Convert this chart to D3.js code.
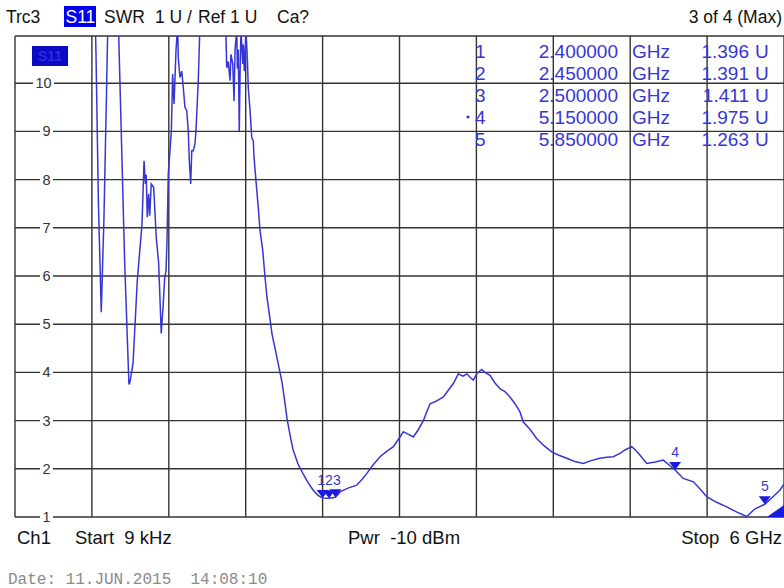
<!DOCTYPE html>
<html><head><meta charset="utf-8">
<script src="https://cdn.jsdelivr.net/npm/d3@7"></script>
<style>
html,body{margin:0;padding:0;background:#fff;}
svg{display:block;font-family:"Liberation Sans",Arial,sans-serif;}
text{white-space:pre;}
</style></head>
<body><svg id="c" width="784" height="588"></svg>
<script>
// ---- data (GHz, SWR) ----
const freqGHz = [0.009,0.616,0.632,0.651,0.673,0.694,0.714,0.733,0.796,0.811,0.856,0.889,0.897,0.921,0.954,0.991,1.007,1.017,1.024,1.032,1.043,1.051,1.063,1.082,1.102,1.121,1.141,1.155,1.168,1.178,1.186,1.196,1.220,1.230,1.241,1.256,1.269,1.274,1.287,1.301,1.313,1.326,1.340,1.352,1.360,1.371,1.379,1.391,1.404,1.412,1.430,1.443,1.459,1.631,1.646,1.652,1.664,1.678,1.685,1.699,1.709,1.717,1.730,1.735,1.742,1.750,1.756,1.763,1.777,1.781,1.789,1.802,1.813,1.820,1.834,1.847,1.859,1.865,1.880,1.898,1.912,1.933,1.951,1.966,1.990,2.005,2.029,2.060,2.083,2.107,2.122,2.146,2.169,2.208,2.247,2.286,2.325,2.364,2.400,2.450,2.500,2.536,2.598,2.666,2.707,2.744,2.793,2.848,2.895,2.952,3.004,3.030,3.066,3.108,3.144,3.186,3.238,3.285,3.342,3.378,3.420,3.459,3.495,3.527,3.550,3.576,3.605,3.641,3.667,3.706,3.745,3.784,3.823,3.862,3.901,3.940,3.966,4.018,4.070,4.127,4.187,4.244,4.305,4.369,4.434,4.494,4.564,4.619,4.668,4.720,4.759,4.812,4.845,4.877,4.929,4.994,5.058,5.150,5.214,5.293,5.345,5.397,5.470,5.553,5.633,5.709,5.774,5.850,5.906,5.969,6.000];
const swr = [14,12.5,10.6,7.5,5.25,7.2,9.8,12.5,12.5,10.8,6.26,3.75,3.8,4.19,5.9,7.08,8.39,7.91,8.1,7.22,7.7,7.25,7.91,7.84,6.8,6.26,4.81,5.35,5.97,6.1,6.73,8.11,9.01,10.19,9.57,10.67,11.2,10.53,10.12,10.25,9.91,9.5,9.43,9.01,8.39,7.91,8.6,8.6,8.74,9.01,10.05,11.2,12.5,12.5,11.0,10.32,10.45,10.05,10.6,10.4,9.63,10.7,11.1,10.3,10.7,9.01,10.2,11.1,10.4,10.8,10.25,11.1,10.5,9.91,9.43,8.87,8.8,8.46,7.98,7.42,6.94,6.53,5.97,5.56,5.1,4.8,4.5,4.1,3.8,3.35,3.05,2.7,2.4,2.1,1.9,1.72,1.56,1.45,1.396,1.391,1.411,1.52,1.6,1.66,1.78,1.9,2.08,2.25,2.35,2.46,2.66,2.77,2.72,2.66,2.8,3.0,3.35,3.4,3.49,3.62,3.77,3.97,3.92,3.97,3.9,3.84,3.98,4.06,4.0,3.94,3.78,3.66,3.6,3.49,3.35,3.18,2.97,2.82,2.63,2.48,2.35,2.28,2.22,2.15,2.11,2.17,2.22,2.24,2.25,2.32,2.39,2.46,2.38,2.28,2.11,2.14,2.18,1.975,1.80,1.73,1.58,1.42,1.31,1.21,1.10,1.01,1.17,1.263,1.40,1.56,1.68];
const yTicks = [1,2,3,4,5,6,7,8,9,10];
const xGrid = [0,0.6,1.2,1.8,2.4,3.0,3.6,4.2,4.8,5.4,6.0];
const markerNo = ["1","2","3","4","5"];
const markerFreq = [2.40,2.45,2.50,5.15,5.85];
const markerFreqText = ["2.400000","2.450000","2.500000","5.150000","5.850000"];
const markerVal = [1.396,1.391,1.411,1.975,1.263];
const markerValText = ["1.396","1.391","1.411","1.975","1.263"];
const headerLeft = ["Trc3","S11","SWR","1 U /","Ref 1 U","Ca?"];
const headerRight = "3 of 4 (Max)";
const footer = ["Ch1","Start  9 kHz","Pwr  -10 dBm","Stop  6 GHz"];
const dateText = "Date: 11.JUN.2015  14:08:10";

const svg = d3.select("#c");
const L = 15, R = 784, T = 36, B = 517;
const x = d3.scaleLinear().domain([0,6]).range([L,R]);
const y = d3.scaleLinear().domain([1,11]).range([B,B-10*48.2]);
const gridCol = "#333", blue = "#3636d6";

// grid
svg.append("g").selectAll("line").data(xGrid).join("line")
  .attr("x1",d=>x(d)).attr("x2",d=>x(d)).attr("y1",T).attr("y2",B)
  .attr("stroke",gridCol).attr("stroke-width",1.4);
svg.append("g").selectAll("line").data(yTicks).join("line")
  .attr("x1",L).attr("x2",R).attr("y1",d=>y(d)).attr("y2",d=>y(d))
  .attr("stroke",gridCol).attr("stroke-width",1.4);
svg.append("line").attr("x1",L).attr("x2",R).attr("y1",T).attr("y2",T).attr("stroke",gridCol).attr("stroke-width",1.4);

// y labels with knockout
const yl = svg.append("g").selectAll("g").data(yTicks).join("g");
yl.append("rect").attr("x",d=>d>=10?33:40).attr("y",d=>y(d)-8).attr("width",d=>d>=10?21:13).attr("height",16).attr("fill","#fff");
yl.append("text").attr("x",d=>d>=10?43.5:46.5).attr("y",d=>y(d)+5).attr("text-anchor","middle")
  .attr("font-size",14.5).attr("fill","#333").text(d=>d);

// in-plot S11 badge
svg.append("rect").attr("x",32).attr("y",46).attr("width",36).attr("height",20).attr("fill","#0a0ac0");
svg.append("text").attr("x",50).attr("y",61).attr("text-anchor","middle").attr("font-size",14).attr("font-weight","bold").attr("fill","#2a2ae8").text("S11");

// trace
svg.append("clipPath").attr("id","clip").append("rect").attr("x",L).attr("y",T).attr("width",R-L).attr("height",B-T+2);
const pts = freqGHz.map((f,i)=>[f,swr[i]]);
svg.append("path").datum(pts).attr("clip-path","url(#clip)")
  .attr("d",d3.line().x(d=>x(d[0])).y(d=>y(d[1])))
  .attr("fill","none").attr("stroke",blue).attr("stroke-width",1.5);

// markers
const mk = svg.append("g");
markerFreq.forEach((f,i)=>{
  const px = x(f), py = y(markerVal[i]);
  mk.append("path").attr("d",`M${px-6},${py-8}L${px+6},${py-8}L${px},${py}Z`).attr("fill","#1a1ae0");
});
mk.append("text").attr("x",x(2.45)).attr("y",y(1.39)-13).attr("text-anchor","middle").attr("font-size",14).attr("fill",blue).text(markerNo.slice(0,3).join(""));
mk.append("text").attr("x",x(5.15)).attr("y",y(1.975)-13).attr("text-anchor","middle").attr("font-size",14).attr("fill",blue).text(markerNo[3]);
mk.append("text").attr("x",x(5.85)).attr("y",y(1.263)-13).attr("text-anchor","middle").attr("font-size",14).attr("fill",blue).text(markerNo[4]);
svg.append("path").attr("d",`M${R},${B-12}L${R},${B}L${R-17},${B}Z`).attr("fill","#1a1ae0");

// marker table
const rowY = [58,80,102,124,146];
const tb = svg.append("g").attr("font-size",19).attr("fill",blue);
markerNo.forEach((n,i)=>{
  tb.append("text").attr("x",475).attr("y",rowY[i]).text(n);
  tb.append("text").attr("x",618).attr("y",rowY[i]).attr("text-anchor","end").text(markerFreqText[i]);
  tb.append("text").attr("x",632).attr("y",rowY[i]).text("GHz");
  tb.append("text").attr("x",749).attr("y",rowY[i]).attr("text-anchor","end").text(markerValText[i]);
  tb.append("text").attr("x",755).attr("y",rowY[i]).text("U");
});
tb.append("circle").attr("cx",468).attr("cy",rowY[3]-7).attr("r",1.6).attr("fill",blue);

// header
const hx = [6,65.5,104,155,198,277];
const hg = svg.append("g").attr("font-size",17.5).attr("fill","#111");
hg.append("rect").attr("x",64).attr("y",6).attr("width",32).attr("height",21).attr("fill","#0000f0");
headerLeft.forEach((t,i)=>{
  hg.append("text").attr("x",hx[i]).attr("y",23).attr("fill",i===1?"#fff":"#111").text(t);
});
hg.append("text").attr("x",782).attr("y",23).attr("text-anchor","end").text(headerRight);

// footer
const fg = svg.append("g").attr("font-size",18.5).attr("fill","#111");
fg.append("text").attr("x",17).attr("y",544).text(footer[0]);
fg.append("text").attr("x",75).attr("y",544).text(footer[1]);
fg.append("text").attr("x",348).attr("y",544).text(footer[2]);
fg.append("text").attr("x",782).attr("y",544).attr("text-anchor","end").text(footer[3]);
svg.append("text").attr("x",8).attr("y",584).attr("font-family","'Liberation Mono',monospace").attr("font-size",16).attr("fill","#8a8a8a").text(dateText);
</script></body></html>
